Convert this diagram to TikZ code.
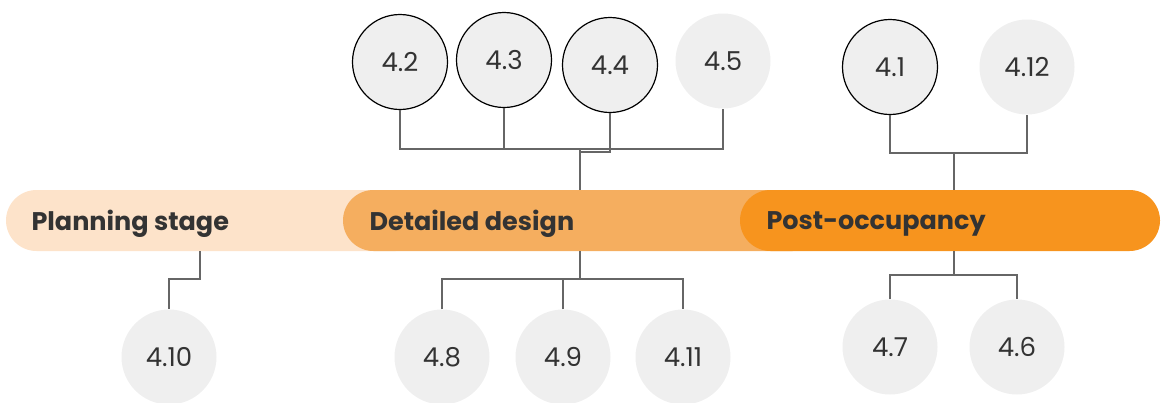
\documentclass[tikz,border=0pt]{standalone}
\usepackage{fontspec}
\setmainfont{Poppins}
\definecolor{plan}{HTML}{FDE3CA}
\definecolor{detail}{HTML}{F5AE5F}
\definecolor{post}{HTML}{F7941E}
\definecolor{cfill}{HTML}{EFEFEF}
\definecolor{txt}{HTML}{333333}
\definecolor{wire}{HTML}{666666}
\begin{document}
\begin{tikzpicture}[x=1pt,y=-1pt,
  num/.style={circle,fill=cfill,minimum size=95pt,inner sep=0pt,text=txt,font=\fontsize{26}{28}\selectfont},
  ring/.style={num,draw=black,line width=1.2pt},
  bar/.style={rounded corners=30.5pt,minimum height=61pt,inner sep=0pt},
  lbl/.style={anchor=west,text=txt,font=\fontsize{25.5}{28}\selectfont\bfseries},
  wirestyle/.style={draw=wire,line width=1.3pt}]
\useasboundingbox (0,0) rectangle (1161,402);
% bars
\node[bar,fill=plan,minimum width=420pt] (ps) at (216,220.5) {};
\node[bar,fill=detail,minimum width=480pt] (dd) at (583,220.5) {};
\node[bar,fill=post,minimum width=420pt] (po) at (950,220.5) {};
\node[lbl] (lps) at (28,224) {Planning stage};
\node[lbl] (ldd) at (366,224) {Detailed design};
\node[lbl] (lpo) at (763,224) {Post-occupancy};
% top circles
\node[ring] (c42) at (400,62) {4.2};
\node[ring] (c43) at (504,60) {4.3};
\node[ring] (c44) at (610,65) {4.4};
\node[num]  (c45) at (723,61) {4.5};
\node[ring] (c41) at (890,67) {4.1};
\node[num]  (c412) at (1027,67) {4.12};
% bottom circles
\node[num] (c410) at (169,357) {4.10};
\node[num] (c48) at (442,357) {4.8};
\node[num] (c49) at (563,357) {4.9};
\node[num] (c411) at (683,357) {4.11};
\node[num] (c47) at (890,347) {4.7};
\node[num] (c46) at (1017,347) {4.6};
% junctions
\coordinate (j1) at (580,149);
\coordinate (j1b) at (580,152);
\coordinate (j2) at (580,279);
\coordinate (j3) at (200,279);
\coordinate (j4) at (954,153);
\coordinate (j5) at (954,275);
% connectors
\draw[wirestyle] (c42.south) |- (j1) -| (c45.south);
\draw[wirestyle] (c43.south) -- (c43.south |- j1);
\draw[wirestyle] (c44.south) |- (j1b);
\draw[wirestyle] (j1) -- (j1 |- dd.north);
\draw[wirestyle] (j2 |- dd.south) -- (j2);
\draw[wirestyle] (c48.north) |- (j2) -| (c411.north);
\draw[wirestyle] (c49.north) -- (c49.north |- j2);
\draw[wirestyle] (j3 |- ps.south) -- (j3) -| (c410.north);
\draw[wirestyle] (c41.south) |- (j4) -| (c412.south);
\draw[wirestyle] (j4) -- (j4 |- po.north);
\draw[wirestyle] (j5 |- po.south) -- (j5);
\draw[wirestyle] (c47.north) |- (j5) -| (c46.north);
\end{tikzpicture}
\end{document}
